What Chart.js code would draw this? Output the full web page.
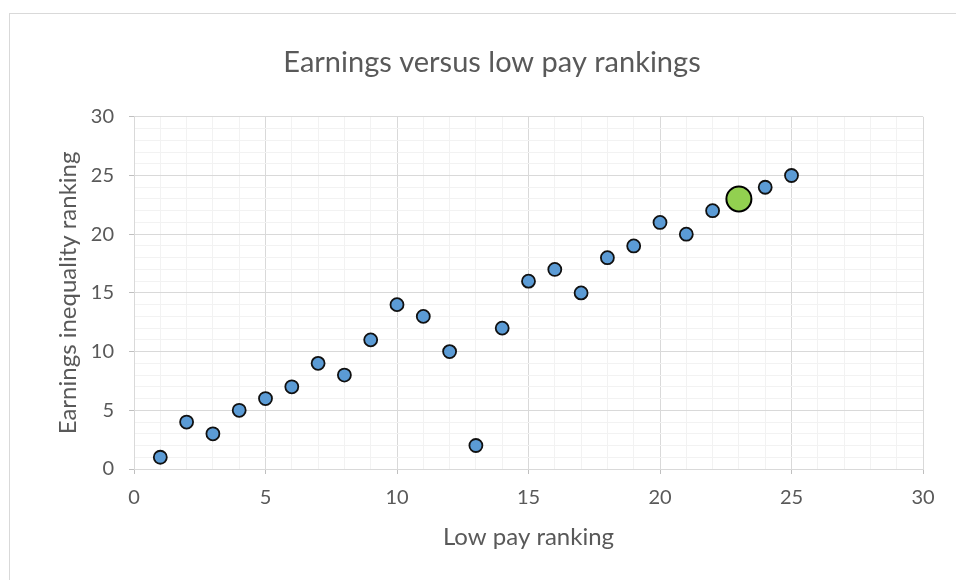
<!DOCTYPE html>
<html>
<head>
<meta charset="utf-8">
<script src="https://cdn.jsdelivr.net/npm/chart.js@4"></script>
<style>
  html, body { margin: 0; padding: 0; background: #fff; overflow: hidden; }
  #wrap { position: relative; width: 956px; height: 580px; }
  #frame { position: absolute; left: 9px; top: 13px; width: 980px; height: 620px; border: 1px solid #d9d9d9; box-sizing: border-box; pointer-events: none; }
  canvas { position: absolute; left: 0; top: 0; }
</style>
</head>
<body>
<div id="wrap">
  <div id="frame"></div>
  <canvas id="c" width="956" height="580"></canvas>
</div>
<script>
const chartTitle = 'Earnings versus low pay rankings';
const xAxisTitle = 'Low pay ranking';
const yAxisTitle = 'Earnings inequality ranking';
const lowPayRank = [1, 2, 3, 4, 5, 6, 7, 8, 9, 10, 11, 12, 13, 14, 15, 16, 17, 18, 19, 20, 21, 22, 23, 24, 25];
const earningsRank = [1, 4, 3, 5, 6, 7, 9, 8, 11, 14, 13, 10, 2, 12, 16, 17, 15, 18, 19, 21, 20, 22, 23, 24, 25];
const highlightIndex = [22];
const axisMin = 0, axisMax = 30, majorStep = 5, minorStep = 1;

const textColor = '#595959';
const font = 'Lato, "Open Sans", sans-serif';

const normalPts = [], highPts = [];
lowPayRank.forEach((x, i) => {
  const p = { x: x, y: earningsRank[i] };
  (highlightIndex.includes(i) ? highPts : normalPts).push(p);
});

const isMajor = v => Math.abs(v / majorStep - Math.round(v / majorStep)) < 1e-6;
const gridColor = ctx => (ctx.tick && isMajor(ctx.tick.value)) ? '#d9d9d9' : '#f2f2f2';
const tickMarkColor = ctx => (ctx.tick && isMajor(ctx.tick.value)) ? '#bfbfbf' : 'rgba(0,0,0,0)';

new Chart(document.getElementById('c'), {
  type: 'scatter',
  data: {
    datasets: [
      {
        data: highPts,
        backgroundColor: '#92d050',
        borderColor: '#000000',
        borderWidth: 2,
        pointRadius: 12.5,
        pointHoverRadius: 12.5,
        order: 0
      },
      {
        data: normalPts,
        backgroundColor: '#5b9bd5',
        borderColor: '#111111',
        borderWidth: 1.8,
        pointRadius: 6.5,
        pointHoverRadius: 6.5,
        order: 1
      }
    ]
  },
  options: {
    responsive: false,
    animation: false,
    layout: { padding: { left: 61, right: 33, top: 0, bottom: 26 } },
    plugins: {
      legend: { display: false },
      tooltip: { enabled: false },
      title: {
        display: true,
        text: chartTitle,
        color: textColor,
        font: { family: font, size: 29, weight: 'normal' },
        padding: { top: 45, bottom: 37 }
      }
    },
    scales: {
      x: {
        type: 'linear',
        min: axisMin, max: axisMax,
        ticks: {
          stepSize: minorStep,
          autoSkip: false,
          maxRotation: 0,
          color: textColor,
          font: { family: font, size: 20 },
          padding: 12,
          callback: v => isMajor(v) ? String(v) : ''
        },
        grid: { color: gridColor, tickColor: tickMarkColor, tickLength: 5, lineWidth: 1 },
        border: { color: '#d9d9d9', width: 1 },
        title: {
          display: true,
          text: xAxisTitle,
          color: textColor,
          font: { family: font, size: 24 },
          padding: { top: 0, bottom: 2 }
        },
        afterFit: s => { s.height = 85; }
      },
      y: {
        type: 'linear',
        min: axisMin, max: axisMax,
        ticks: {
          stepSize: minorStep,
          autoSkip: false,
          color: textColor,
          font: { family: font, size: 20 },
          padding: 15,
          callback: v => isMajor(v) ? String(v) : ''
        },
        grid: { color: gridColor, tickColor: tickMarkColor, tickLength: 5, lineWidth: 1 },
        border: { color: '#d9d9d9', width: 1 },
        title: {
          display: true,
          text: yAxisTitle,
          color: textColor,
          font: { family: font, size: 24 },
          padding: { top: -7, bottom: 0 }
        },
        afterFit: s => { s.width = 73; }
      }
    }
  }
});
</script>
</body>
</html>
